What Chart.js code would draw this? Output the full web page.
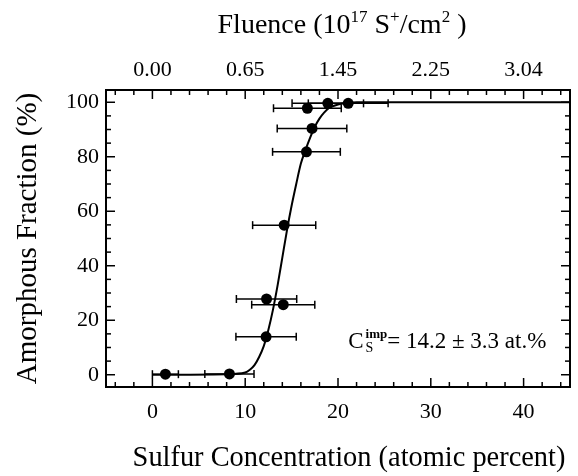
<!DOCTYPE html>
<html><head><meta charset="utf-8">
<script src="https://cdn.jsdelivr.net/npm/chart.js@4.4.0/dist/chart.umd.min.js"></script>
<style>html,body{margin:0;padding:0;background:#fff}</style>
</head><body>
<canvas id="c" width="578" height="476"></canvas>
<script>
// Measured points (sulfur concentration in at.%, amorphous fraction in %)
const concentration = [1.4, 8.3, 12.25, 14.1, 12.3, 14.2, 16.6, 17.2, 16.7, 18.9, 21.1];
const amorphous     = [0.2, 0.3, 13.9, 25.7, 27.8, 54.9, 81.8, 90.4, 97.8, 99.6, 99.6];
const concError     = [1.4, 2.65, 3.25, 3.4, 3.25, 3.4, 3.65, 3.75, 3.65, 3.85, 4.3];
// Fit curve
const fitConc      = [0, 8, 10, 10.5, 11, 11.5, 12, 12.5, 13, 13.5, 14, 14.5, 15, 15.5, 16, 16.5, 17, 17.5, 18, 18.5, 19, 20, 21, 22, 45];
const fitAmorphous = [0, 0.2, 0.8, 1.8, 3.5, 6.5, 10.5, 16.5, 24, 33, 43, 53, 62, 70, 77.5, 82.5, 87, 91, 94, 96.2, 97.8, 99.2, 99.7, 100, 100];
// Tick labels
const concTicks     = [0, 10, 20, 30, 40];
const fluenceTicks  = ['0.00', '0.65', '1.45', '2.25', '3.04'];
const fractionTicks = [0, 20, 40, 60, 80, 100];

const F = "'Liberation Serif', 'Times New Roman', serif";
const annotationAnchor = {x: 21.1, y: 9.8};

const pts = concentration.map((x, i) => ({x, y: amorphous[i]}));
const fit = fitConc.map((x, i) => ({x, y: fitAmorphous[i]}));

function line(ctx, x1, y1, x2, y2) { ctx.beginPath(); ctx.moveTo(x1, y1); ctx.lineTo(x2, y2); ctx.stroke(); }

function richText(ctx, segs, x, y) {
  let cx = x;
  for (const s of segs) {
    ctx.font = (s.w || 'normal') + ' ' + s.s + 'px ' + F;
    ctx.fillText(s.t, cx, y + (s.dy || 0));
    cx += ctx.measureText(s.t).width;
  }
}
function richWidth(ctx, segs) {
  let w = 0;
  for (const s of segs) { ctx.font = (s.w || 'normal') + ' ' + s.s + 'px ' + F; w += ctx.measureText(s.t).width; }
  return w;
}

const decor = {
  id: 'decor',
  beforeDatasetsDraw(chart) {
    const ctx = chart.ctx, xs = chart.scales.x, ys = chart.scales.y;
    ctx.save();
    ctx.strokeStyle = '#000'; ctx.lineWidth = 1.5;
    concentration.forEach((c, i) => {
      const x1 = xs.getPixelForValue(c - concError[i]);
      const x2 = xs.getPixelForValue(c + concError[i]);
      const py = ys.getPixelForValue(amorphous[i]);
      line(ctx, x1, py, x2, py);
      line(ctx, x1, py - 4, x1, py + 4);
      line(ctx, x2, py - 4, x2, py + 4);
    });
    ctx.restore();
  },
  afterDraw(chart) {
    const ctx = chart.ctx, xs = chart.scales.x, ys = chart.scales.y, a = chart.chartArea;
    ctx.save();
    ctx.strokeStyle = '#000';
    ctx.lineWidth = 1.5;
    for (let v = -4; v <= 44; v += 2) {
      const px = xs.getPixelForValue(v);
      const len = v % 10 === 0 ? 9 : 5;
      line(ctx, px, a.bottom, px, a.bottom - len);
      line(ctx, px, a.top, px, a.top + len);
    }
    for (let v = 0; v <= 100; v += 5) {
      const py = ys.getPixelForValue(v);
      const len = v % 20 === 0 ? 9 : 5;
      line(ctx, a.left, py, a.left + len, py);
      line(ctx, a.right, py, a.right - len, py);
    }
    ctx.lineWidth = 2;
    ctx.strokeRect(a.left, a.top, a.right - a.left, a.bottom - a.top);

    ctx.fillStyle = '#000';
    ctx.textBaseline = 'alphabetic';
    ctx.textAlign = 'left';
    // top title
    const segs = [
      {t: 'Fluence (10', s: 28}, {t: '17', s: 17, dy: -11}, {t: ' S', s: 28},
      {t: '+', s: 17, dy: -11}, {t: '/cm', s: 28}, {t: '2', s: 17, dy: -11}, {t: ' )', s: 28}
    ];
    const w = richWidth(ctx, segs);
    richText(ctx, segs, (a.left + a.right) / 2 + 4 - w / 2, 33);

    // bottom title
    ctx.font = '28.4px ' + F;
    ctx.textAlign = 'center';
    ctx.fillText('Sulfur Concentration (atomic percent)', (a.left + a.right) / 2 + 11, 466);
    ctx.textAlign = 'left';

    // annotation
    const ax = xs.getPixelForValue(annotationAnchor.x);
    const ay = ys.getPixelForValue(annotationAnchor.y);
    ctx.font = '23px ' + F;
    ctx.fillText('C', ax, ay);
    let cx = ax + ctx.measureText('C').width + 2;
    ctx.font = 'bold 13px ' + F;
    ctx.fillText('imp', cx, ay - 10);
    const w1 = ctx.measureText('imp').width;
    ctx.font = '14px ' + F;
    ctx.fillText('S', cx, ay + 4);
    cx += Math.max(w1, ctx.measureText('S').width);
    ctx.font = '23px ' + F;
    ctx.fillText('= 14.2 \u00b1 3.3 at.%', cx, ay);
    ctx.restore();
  }
};

new Chart(document.getElementById('c'), {
  type: 'line',
  data: {
    datasets: [
      {data: pts, showLine: false, pointRadius: 5.5, pointBackgroundColor: '#000', pointBorderColor: '#000', pointBorderWidth: 0, order: 0},
      {data: fit, borderColor: '#000', borderWidth: 2, pointRadius: 0, cubicInterpolationMode: 'monotone', fill: false, order: 1}
    ]
  },
  options: {
    responsive: false,
    animation: false,
    devicePixelRatio: 1,
    layout: {padding: {left: 0, right: 8, top: 0, bottom: 0}},
    plugins: {legend: {display: false}, tooltip: {enabled: false}},
    scales: {
      x: {
        type: 'linear', position: 'bottom', min: -5, max: 45,
        afterBuildTicks: s => { s.ticks = concTicks.map(v => ({value: v})); },
        afterFit: s => { s.height = 89; },
        grid: {display: false, drawTicks: false}, border: {display: false},
        ticks: {font: {family: F, size: 22}, color: '#000', padding: 12, maxRotation: 0, autoSkip: false}
      },
      x2: {
        type: 'linear', position: 'top', min: -5, max: 45,
        afterBuildTicks: s => { s.ticks = concTicks.map(v => ({value: v})); },
        afterFit: s => { s.height = 90; },
        grid: {display: false, drawTicks: false}, border: {display: false},
        ticks: {font: {family: F, size: 22}, color: '#000', padding: 7, maxRotation: 0, autoSkip: false,
          callback: v => fluenceTicks[concTicks.indexOf(v)]}
      },
      y: {
        type: 'linear', position: 'left', min: -4.5, max: 104.5,
        afterBuildTicks: s => { s.ticks = fractionTicks.map(v => ({value: v})); },
        afterFit: s => { s.width = 106; },
        grid: {display: false, drawTicks: false}, border: {display: false},
        ticks: {font: {family: F, size: 22}, color: '#000', padding: 7, autoSkip: false},
        title: {display: true, text: 'Amorphous Fraction (%)', font: {family: F, size: 29}, color: '#000', padding: {top: 11, bottom: 0}}
      }
    }
  },
  plugins: [decor]
});
</script>
</body></html>
